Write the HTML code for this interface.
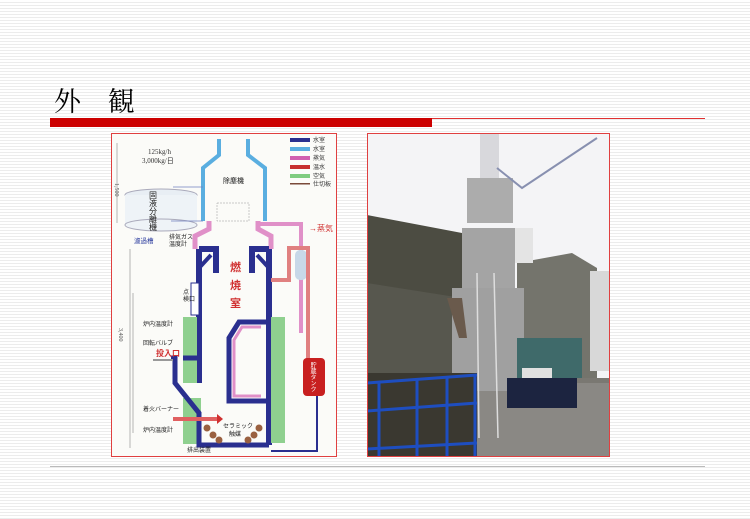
<!DOCTYPE html>
<html><head><meta charset="utf-8"><style>
html,body{margin:0;padding:0}
body{width:750px;height:519px;position:relative;overflow:hidden;
background:repeating-linear-gradient(to bottom,#fff 0,#fff 2px,#ececec 2px,#ececec 3px);
font-family:"Liberation Sans","Noto Sans CJK JP",sans-serif}
.t{position:absolute;left:54px;top:80px;font-size:27px;color:#000;letter-spacing:10px;font-family:"Liberation Serif","Noto Serif CJK SC",serif}
</style></head><body>
<div class="t">外 観</div>
<div style="position:absolute;left:50px;top:118px;width:655px;height:1px;background:#e03030"></div>
<div style="position:absolute;left:50px;top:118px;width:382px;height:9px;background:#cc0000"></div>
<div style="position:absolute;left:50px;top:466px;width:655px;height:1px;background:#bbb"></div>

<svg style="position:absolute;left:111px;top:133px" width="226" height="324" viewBox="0 0 226 324" font-family="Liberation Serif,Noto Sans CJK JP,sans-serif">
<rect x="0.5" y="0.5" width="225" height="323" fill="#fbfbf8" stroke="#e04040"/>
<g font-size="6" fill="#333">
<rect x="179" y="5" width="20" height="4" fill="#2a2f8f"/><text x="202" y="9">水室</text>
<rect x="179" y="14" width="20" height="4" fill="#5aaee0"/><text x="202" y="18">水室</text>
<rect x="179" y="23" width="20" height="4" fill="#d060b0"/><text x="202" y="27">蒸気</text>
<rect x="179" y="32" width="20" height="4" fill="#c83030"/><text x="202" y="36">温水</text>
<rect x="179" y="41" width="20" height="4" fill="#80cc80"/><text x="202" y="45">空気</text>
<rect x="179" y="50" width="20" height="1.5" fill="#7a4a3a"/><text x="202" y="53">仕切板</text>
</g>
<text x="37" y="21" font-size="7" fill="#333">125kg/h</text>
<text x="31" y="30" font-size="7" fill="#333">3,000kg/日</text>
<line x1="6" y1="10" x2="6" y2="90" stroke="#888" stroke-width="0.6"/>
<text x="4" y="50" font-size="6" fill="#555" transform="rotate(90 4 50)">1,500</text>
<line x1="19" y1="116" x2="19" y2="315" stroke="#888" stroke-width="0.6"/>
<text x="8" y="195" font-size="6" fill="#555" transform="rotate(90 8 195)">3,400</text>
<line x1="22" y1="160" x2="22" y2="300" stroke="#888" stroke-width="0.6"/>
<path d="M108 6 L108 22 L92 35 L92 88 M137 6 L137 22 L154 35 L154 88" fill="none" stroke="#5aaee0" stroke-width="4"/>
<rect x="106" y="70" width="32" height="18" fill="none" stroke="#999" stroke-width="0.5" stroke-dasharray="2 1"/>
<text x="112" y="50" font-size="7" fill="#222">除塵機</text>
<ellipse cx="50" cy="62" rx="36" ry="6" fill="#e8eef4" stroke="#aab"/>
<rect x="14" y="62" width="72" height="30" fill="#eef3f7"/>
<ellipse cx="50" cy="92" rx="36" ry="6" fill="#eef3f7" stroke="#aab"/>
<text x="42" y="58" font-size="8" fill="#222" writing-mode="tb">固液分離機</text>
<text x="23" y="110" font-size="6.5" fill="#3040a0">濾過槽</text>
<text x="58" y="106" font-size="6" fill="#222">排気ガス</text>
<text x="58" y="113" font-size="6" fill="#222">温度計</text>
<line x1="62" y1="54" x2="92" y2="54" stroke="#7080c0" stroke-width="0.8"/>
<line x1="60" y1="88" x2="92" y2="88" stroke="#7080c0" stroke-width="0.8"/>
<path d="M98 88 L98 96 L84 103 L84 116 M147 88 L147 96 L160 103 L160 116" fill="none" stroke="#e090c8" stroke-width="5"/>
<path d="M147 91 L190 91 L190 200" fill="none" stroke="#e090c8" stroke-width="4"/>
<text x="198" y="98" font-size="8" fill="#d03030">→蒸気</text>
<rect x="184" y="117" width="12" height="30" rx="5" fill="#c8d8e8"/>
<path d="M88 116 L88 250 M158 116 L158 312 M88 116 L105 116 L105 140 M158 116 L141 116 L141 140" fill="none" stroke="#2a2f8f" stroke-width="6"/>
<path d="M88 135 L100 122 M158 135 L146 122" stroke="#2a2f8f" stroke-width="4"/>
<text x="119" y="138" font-size="11" fill="#d03030" font-weight="bold">燃</text>
<text x="119" y="156" font-size="11" fill="#d03030" font-weight="bold">焼</text>
<text x="119" y="174" font-size="11" fill="#d03030" font-weight="bold">室</text>
<rect x="80" y="150" width="8" height="32" fill="#fff" stroke="#2a2f8f"/>
<text x="72" y="161" font-size="6" fill="#222">点</text><text x="72" y="168" font-size="6" fill="#222">検口</text>
<rect x="72" y="184" width="14" height="66" fill="#8fd08f"/>
<rect x="72" y="265" width="18" height="46" fill="#8fd08f"/>
<rect x="160" y="184" width="14" height="126" fill="#8fd08f"/>
<path d="M155 189 L128 189 L118 205 L118 268 L155 268" fill="none" stroke="#2a2f8f" stroke-width="5"/>
<path d="M150 194 L131 194 L123 207 L123 263 L150 263" fill="none" stroke="#e090c8" stroke-width="3"/>
<path d="M60 225 L64 225 L64 250 L88 280 L88 312 L158 312 M72 225 L88 225" fill="none" stroke="#2a2f8f" stroke-width="5"/>
<path d="M42 227 L62 227" stroke="#999" stroke-width="2"/>
<text x="32" y="193" font-size="6" fill="#222">炉内温度計</text>
<text x="32" y="212" font-size="6" fill="#222">回転バルブ</text>
<text x="45" y="223" font-size="8" fill="#d03030" font-weight="bold">投入口</text>
<text x="32" y="278" font-size="6" fill="#222">着火バーナー</text>
<text x="32" y="299" font-size="6" fill="#222">炉内温度計</text>
<rect x="62" y="284" width="46" height="4" fill="#e06060"/>
<path d="M106 281 L112 286 L106 291Z" fill="#d03030"/>
<g fill="#9a6040"><circle cx="96" cy="295" r="3.5"/><circle cx="102" cy="302" r="3.5"/><circle cx="108" cy="307" r="3.5"/><circle cx="137" cy="307" r="3.5"/><circle cx="143" cy="302" r="3.5"/><circle cx="148" cy="295" r="3.5"/></g>
<text x="112" y="295" font-size="6" fill="#222">セラミック</text>
<text x="118" y="303" font-size="6" fill="#222">触媒</text>
<text x="76" y="319" font-size="6" fill="#222">排出装置</text>
<path d="M160 147 L178 147 L178 115 L197 115 L197 228" fill="none" stroke="#e08080" stroke-width="4"/>
<rect x="192" y="225" width="22" height="38" rx="4" fill="#c82020"/>
<text x="201" y="229" font-size="6" fill="#fff" writing-mode="tb">貯蔵タンク</text>
<path d="M206 263 L206 318 L160 318" fill="none" stroke="#2a2f8f" stroke-width="2"/>
</svg>

<svg style="position:absolute;left:367px;top:133px" width="243" height="324" viewBox="0 0 243 324">
<rect width="243" height="324" fill="#f4f4f6"/>
<path d="M0 82 L95 100 L95 324 L0 324Z" fill="#4c4c42"/>
<path d="M0 150 L95 165 L95 245 L0 245Z" fill="#57574e"/>
<path d="M150 130 L205 120 L230 135 L230 250 L150 250Z" fill="#74746c"/>
<rect x="223" y="138" width="20" height="100" fill="#d8d8d8"/>
<rect x="0" y="245" width="243" height="79" fill="#7a7872"/>
<rect x="110" y="250" width="133" height="74" fill="#8a8884"/>
<rect x="113" y="0" width="19" height="45" fill="#d8d8dc"/>
<rect x="100" y="45" width="46" height="45" fill="#acacac"/>
<rect x="95" y="95" width="53" height="65" fill="#a4a4a4"/>
<rect x="85" y="155" width="72" height="103" fill="#a0a0a0"/>
<path d="M80 165 L95 165 L100 205 L92 205Z" fill="#6a5a4c"/>
<rect x="148" y="95" width="18" height="35" fill="#e4e4e4"/>
<path d="M130 35 L155 55 L230 5" fill="none" stroke="#8890b0" stroke-width="2"/>
<rect x="150" y="205" width="65" height="40" fill="#3f6a6a"/>
<rect x="155" y="235" width="30" height="15" fill="#e0e0e0"/>
<rect x="140" y="245" width="70" height="30" fill="#1c2440"/>
<line x1="110" y1="140" x2="112" y2="305" stroke="#ddd" stroke-width="1.5"/>
<line x1="127" y1="140" x2="131" y2="305" stroke="#ddd" stroke-width="1.5"/>
<rect x="0" y="240" width="110" height="84" fill="#3a3830"/>
<path d="M0 250 L110 242 M0 278 L110 270 M0 316 L110 310" stroke="#1e4ec0" stroke-width="3"/>
<path d="M12 248 L12 324 M50 245 L50 324 M80 243 L80 324 M108 242 L108 324" stroke="#1e4ec0" stroke-width="3"/>
<rect x="0.5" y="0.5" width="242" height="323" fill="none" stroke="#e04040"/>
</svg>
</body></html>
